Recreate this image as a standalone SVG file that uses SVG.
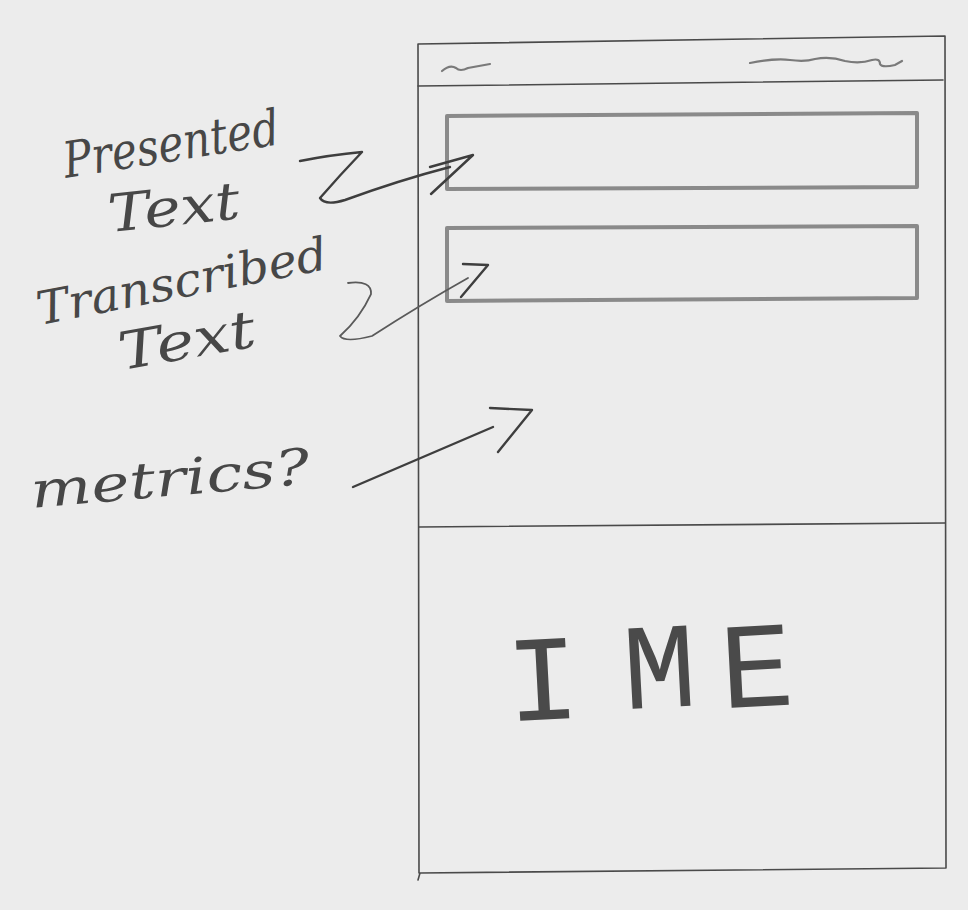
<svg xmlns="http://www.w3.org/2000/svg" width="968" height="910" viewBox="0 0 968 910">
  <style>
    .frame { fill: none; stroke: #4a4a4a; stroke-width: 1.6; stroke-linecap: round; stroke-linejoin: round; }
    .field { fill: none; stroke: #8a8a8a; stroke-width: 4; stroke-linejoin: round; }
    .squig { fill: none; stroke: #7a7a7a; stroke-width: 2.2; stroke-linecap: round; }
    .pencil { fill: none; stroke: #3e3e3e; stroke-width: 2.4; stroke-linecap: round; stroke-linejoin: round; }
    .pencil-light { fill: none; stroke: #5a5a5a; stroke-width: 1.8; stroke-linecap: round; stroke-linejoin: round; }
    .hand { font-family: "DejaVu Serif", "Liberation Serif", serif; font-style: italic; fill: #474747; }
    .ime { font-family: "Liberation Mono", "DejaVu Sans Mono", monospace; fill: #4a4a4a; text-anchor: middle; }
  </style>

  <!-- paper -->
  <rect x="0" y="0" width="968" height="910" fill="#ececec"/>

  <!-- phone screen outline -->
  <g id="phone">
    <path class="frame" d="M418 44 L945 36 L946 868 L420 873 L418 880 M418 44 L419 873"/>
    <!-- title bar -->
    <path class="frame" d="M418 86 L943 80" stroke-width="2.4"/>
    <path class="squig" d="M442 71 Q450 64 456 68 Q460 72 468 68 L490 64"/>
    <path class="squig" d="M750 63 Q775 58 790 60 Q805 62 815 59 Q830 56 845 61 Q860 64 872 60 Q880 58 880 64 Q882 68 895 65 L902 61"/>
  </g>

  <!-- presented text field -->
  <g id="presented-field">
    <path class="field" d="M447 116 L917 113 L917 187 L447 189 Z"/>
  </g>

  <!-- transcribed text field -->
  <g id="transcribed-field">
    <path class="field" d="M447 228 L917 226 L917 298 L447 301 Z"/>
  </g>

  <!-- keyboard area -->
  <g id="ime">
    <path class="frame" d="M419 527 L945 523"/>
    <text class="ime" font-size="122" transform="rotate(-3 650 680)">
      <tspan x="543" y="714">I</tspan><tspan x="660" y="708">M</tspan><tspan x="757" y="712">E</tspan>
    </text>
  </g>

  <!-- handwritten labels -->
  <g id="label-presented">
    <text class="hand" x="66" y="178" font-size="50" textLength="218" lengthAdjust="spacingAndGlyphs" transform="rotate(-9 66 178)">Presented</text>
    <text class="hand" x="110" y="232" font-size="52" textLength="132" lengthAdjust="spacingAndGlyphs" transform="rotate(-6 110 232)">Text</text>
  </g>
  <g id="label-transcribed">
    <text class="hand" x="40" y="325" font-size="46" textLength="295" lengthAdjust="spacingAndGlyphs" transform="rotate(-11 40 325)">Transcribed</text>
    <text class="hand" x="122" y="370" font-size="52" textLength="138" lengthAdjust="spacingAndGlyphs" transform="rotate(-10 122 370)">Text</text>
  </g>
  <g id="label-metrics">
    <text class="hand" x="32" y="508" font-size="50" textLength="280" lengthAdjust="spacingAndGlyphs" transform="rotate(-5 32 508)">metrics?</text>
  </g>

  <!-- connectors -->
  <g id="connectors">
    <!-- Presented Text -> first field -->
    <path class="pencil" d="M300 161 Q330 155 362 152 Q340 175 320 198 Q325 206 345 200 Q400 180 450 167"/>
    <path class="pencil" d="M430 167 L473 155 L431 194"/>
    <!-- Transcribed Text -> second field -->
    <path class="pencil-light" d="M348 283 Q372 280 371 294 Q360 318 340 336 Q345 343 372 336 Q420 305 468 278"/>
    <path class="pencil" d="M463 264 L488 265 L461 297"/>
    <!-- metrics? -> empty area -->
    <path class="pencil" d="M353 487 L493 427"/>
    <path class="pencil" d="M490 408 L532 410 L498 452"/>
  </g>
</svg>
